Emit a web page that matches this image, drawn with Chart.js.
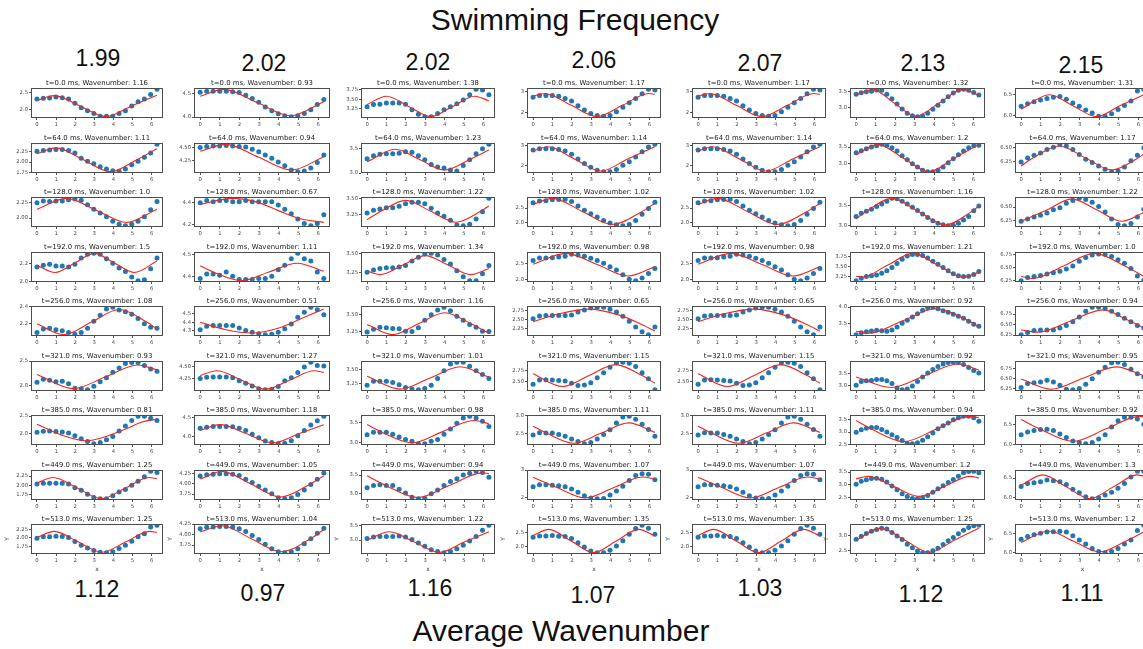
<!DOCTYPE html>
<html>
<head>
<meta charset="utf-8">
<script src="https://cdn.jsdelivr.net/npm/chart.js@4.4.1/dist/chart.umd.min.js"></script>
<style>
  html, body { margin: 0; padding: 0; background: #fff; }
  #page { position: relative; width: 1143px; height: 649px; overflow: hidden; background: #fff; }
  #page canvas { position: absolute; }
  .lbl { position: absolute; transform: translate(-50%, -50%); font-family: 'Liberation Sans', Arial, sans-serif; color: #111; line-height: 1; white-space: nowrap; }
</style>
</head>
<body>
<div id="page"></div>
<script>
// sample positions along the body, 0 .. 2*pi
var xs20 = [0, 0.331, 0.661, 0.992, 1.323, 1.653, 1.984, 2.315, 2.646, 2.976, 3.307, 3.638, 3.968, 4.299, 4.630, 4.960, 5.291, 5.622, 5.952, 6.283];
var xs25 = [0, 0.262, 0.524, 0.785, 1.047, 1.309, 1.571, 1.833, 2.094, 2.356, 2.618, 2.880, 3.142, 3.403, 3.665, 3.927, 4.189, 4.451, 4.712, 4.974, 5.236, 5.498, 5.760, 6.021, 6.283];
var xTickValues = [0, 1, 2, 3, 4, 5, 6];

var swimFreq = ['1.99', '2.02', '2.02', '2.06', '2.07', '2.13', '2.15'];
var avgWavenumber = ['1.12', '0.97', '1.16', '1.07', '1.03', '1.12', '1.11'];
var timesMs = ['0.0', '64.0', '128.0', '192.0', '256.0', '321.0', '385.0', '449.0', '513.0'];

// ---- column 1 ----
var waveC1 = ['1.16', '1.11', '1.0', '1.5', '1.08', '0.93', '0.81', '1.25', '1.25'];
var ticksC1 = [['2.0','2.5'], ['1.75','2.00','2.25'], ['2.00','2.25'], ['2.0','2.2'], ['2.2','2.4'], ['2.0','2.5'], ['2.0','2.5'], ['1.75','2.00','2.25'], ['1.75','2.00','2.25']];
var dotsC1 = [
  [2.30,2.32,2.33,2.36,2.34,2.30,2.18,2.05,1.96,1.88,1.80,1.80,1.80,1.88,1.96,2.10,2.22,2.30,2.43,2.58],
  [2.25,2.27,2.28,2.29,2.29,2.27,2.21,2.09,2.02,1.96,1.89,1.84,1.80,1.79,1.84,1.94,2.02,2.11,2.21,2.41],
  [2.24,2.27,2.26,2.27,2.27,2.29,2.30,2.28,2.21,2.14,2.08,2.02,1.95,1.90,1.88,1.90,1.95,2.02,2.13,2.26],
  [2.16,2.18,2.19,2.17,2.17,2.16,2.19,2.26,2.30,2.31,2.30,2.25,2.20,2.15,2.11,2.05,2.01,2.02,2.14,2.26],
  [2.10,2.14,2.15,2.13,2.12,2.10,2.08,2.10,2.15,2.23,2.30,2.37,2.39,2.36,2.34,2.31,2.26,2.20,2.16,2.15],
  [2.07,2.13,2.11,2.08,2.09,2.04,1.95,1.94,1.92,1.99,2.08,2.16,2.27,2.36,2.45,2.47,2.47,2.41,2.34,2.29],
  [2.04,2.07,2.08,2.06,2.05,2.02,1.94,1.86,1.78,1.72,1.75,1.83,1.92,2.08,2.22,2.37,2.49,2.49,2.44,2.37],
  [2.03,2.05,2.05,2.05,2.05,2.03,1.93,1.86,1.75,1.66,1.63,1.63,1.71,1.81,1.88,2.00,2.11,2.23,2.38,2.35],
  [1.99,2.03,2.03,2.05,2.04,2.01,1.89,1.78,1.70,1.62,1.57,1.56,1.59,1.68,1.78,1.90,2.03,2.12,2.32,2.37]
];
var fitC1 = [
  [[0,2.26],[0.9,2.40],[2.25,2.10],[3.6,1.79],[4.95,2.10],[6.28,2.41]],
  [[0,2.20],[1.0,2.33],[2.4,2.06],[3.83,1.78],[5.25,2.06],[6.28,2.31]],
  [[0,2.14],[1.55,2.31],[3.12,2.12],[4.69,1.93],[6.28,2.14]],
  [[0,2.18],[0.95,2.10],[1.98,2.205],[3.0,2.31],[4.05,2.205],[5.1,2.10],[6.28,2.227]],
  [[0,2.20],[1.4,2.075],[2.85,2.22],[4.3,2.365],[5.75,2.22],[6.28,2.14]],
  [[0,2.225],[1.9,1.94],[3.59,2.18],[5.28,2.42],[6.28,2.32]],
  [[0,2.27],[1.3,1.96],[2.6,1.80],[4.54,2.11],[5.5,2.33],[6.28,2.415]],
  [[0,2.06],[0.85,2.21],[2.11,1.92],[3.37,1.63],[4.63,1.92],[5.88,2.21],[6.28,2.175]],
  [[0,2.01],[0.9,2.19],[2.15,1.88],[3.4,1.57],[4.65,1.88],[5.9,2.19],[6.28,2.16]]
];

// ---- column 2 ----
var waveC2 = ['0.93', '0.94', '0.67', '1.11', '0.51', '1.27', '1.18', '1.05', '1.04'];
var ticksC2 = [['4.0','4.5'], ['4.25','4.50'], ['4.2','4.4'], ['4.4','4.5'], ['4.3','4.4','4.5'], ['4.25','4.50'], ['4.0','4.5'], ['3.75','4.00','4.25'], ['3.75','4.00','4.25']];
var dotsC2 = [
  [4.54,4.56,4.56,4.56,4.56,4.55,4.53,4.47,4.40,4.32,4.22,4.14,4.07,4.03,4.01,4.03,4.08,4.16,4.27,4.38],
  [4.50,4.52,4.53,4.53,4.54,4.53,4.52,4.51,4.47,4.42,4.36,4.30,4.23,4.16,4.08,4.05,4.06,4.12,4.22,4.36],
  [4.40,4.42,4.41,4.42,4.42,4.41,4.41,4.42,4.41,4.41,4.41,4.41,4.38,4.34,4.30,4.25,4.21,4.19,4.21,4.29],
  [4.39,4.41,4.41,4.405,4.42,4.40,4.385,4.385,4.385,4.39,4.39,4.40,4.43,4.45,4.48,4.505,4.48,4.47,4.42,4.39],
  [4.31,4.35,4.36,4.36,4.36,4.36,4.33,4.30,4.28,4.26,4.25,4.255,4.28,4.32,4.38,4.46,4.52,4.58,4.55,4.49],
  [4.25,4.28,4.285,4.285,4.285,4.265,4.20,4.15,4.09,4.03,4.01,4.02,4.08,4.20,4.265,4.38,4.50,4.60,4.53,4.52],
  [4.22,4.25,4.27,4.27,4.27,4.26,4.22,4.16,4.06,3.97,3.88,3.84,3.81,3.82,3.89,4.02,4.16,4.31,4.42,4.54],
  [4.19,4.22,4.23,4.24,4.24,4.23,4.20,4.11,4.03,3.94,3.85,3.76,3.66,3.64,3.66,3.74,3.85,3.98,4.11,4.26],
  [4.135,4.17,4.18,4.19,4.19,4.18,4.14,4.07,3.98,3.88,3.77,3.66,3.59,3.57,3.59,3.66,3.78,3.90,4.03,4.15]
];
var fitC2 = [
  [[0,4.45],[1.2,4.60],[2.9,4.315],[4.58,4.03],[6.28,4.33]],
  [[0,4.43],[1.3,4.56],[2.97,4.32],[4.65,4.08],[6.28,4.33]],
  [[0,4.385],[1.6,4.44],[2.8,4.41],[3.95,4.33],[5.1,4.253],[6.28,4.22]],
  [[0,4.448],[0.7,4.418],[2.1,4.38],[3.5,4.42],[4.93,4.46],[6.28,4.423]],
  [[0,4.40],[1.3,4.31],[2.6,4.27],[4.0,4.33],[5.2,4.45],[6.28,4.56]],
  [[0,4.314],[0.85,4.42],[2.08,4.22],[3.32,4.02],[4.56,4.22],[5.8,4.42],[6.28,4.384]],
  [[0,4.17],[1.0,4.32],[2.35,4.075],[3.68,3.83],[5.01,4.075],[6.28,4.318]],
  [[0,4.115],[1.1,4.30],[2.6,3.99],[4.09,3.68],[5.58,3.99],[6.28,4.195]],
  [[0,4.06],[1.1,4.21],[2.6,3.90],[4.12,3.59],[5.6,3.90],[6.28,4.12]]
];

// ---- column 3 ----
var waveC3 = ['1.38', '1.23', '1.22', '1.34', '1.16', '1.01', '0.98', '0.94', '1.22'];
var ticksC3 = [['3.25','3.50','3.75'], ['3.0','3.5'], ['3.25','3.50'], ['3.25','3.50'], ['3.25','3.50'], ['3.25','3.50'], ['3.0','3.5'], ['3.0','3.5'], ['3.0','3.5']];
var dotsC3 = [
  [3.30,3.36,3.37,3.40,3.40,3.40,3.37,3.22,3.10,3.04,3.04,3.12,3.22,3.30,3.38,3.48,3.62,3.76,3.74,3.62],
  [3.29,3.35,3.38,3.39,3.39,3.40,3.43,3.42,3.35,3.27,3.17,3.12,3.10,3.06,3.04,3.15,3.27,3.39,3.49,3.58],
  [3.28,3.32,3.34,3.36,3.36,3.38,3.42,3.44,3.44,3.42,3.35,3.28,3.23,3.17,3.10,3.09,3.11,3.19,3.30,3.50],
  [3.25,3.28,3.30,3.31,3.31,3.32,3.34,3.40,3.45,3.49,3.50,3.48,3.42,3.36,3.27,3.19,3.14,3.14,3.23,3.34],
  [3.24,3.28,3.31,3.30,3.29,3.285,3.25,3.245,3.30,3.41,3.49,3.56,3.60,3.55,3.47,3.41,3.35,3.31,3.25,3.245],
  [3.22,3.29,3.29,3.29,3.27,3.23,3.18,3.15,3.14,3.16,3.22,3.34,3.48,3.60,3.63,3.63,3.56,3.48,3.41,3.34],
  [3.20,3.26,3.26,3.26,3.21,3.14,3.08,3.04,2.98,2.98,3.04,3.08,3.21,3.34,3.48,3.61,3.65,3.61,3.53,3.40],
  [3.16,3.22,3.24,3.22,3.22,3.12,3.02,2.91,2.87,2.88,3.00,3.10,3.22,3.33,3.40,3.50,3.55,3.60,3.57,3.44],
  [3.05,3.10,3.12,3.12,3.12,3.14,3.10,3.02,2.90,2.79,2.67,2.61,2.57,2.61,2.70,2.82,2.97,3.12,3.33,3.50]
];
var fitC3 = [
  [[0,3.36],[1.0,3.58],[2.14,3.31],[3.28,3.04],[4.42,3.31],[5.55,3.58],[6.28,3.46]],
  [[0,3.226],[1.45,3.48],[2.73,3.27],[4.0,3.06],[5.28,3.27],[6.28,3.467]],
  [[0,3.18],[0.71,3.305],[2.0,3.47],[3.29,3.305],[4.575,3.14],[5.86,3.305],[6.28,3.386]],
  [[0,3.266],[0.67,3.22],[1.84,3.345],[3.01,3.47],[4.18,3.345],[5.35,3.22],[6.28,3.30]],
  [[0,3.35],[1.3,3.20],[2.65,3.36],[4.01,3.52],[5.36,3.36],[6.28,3.22]],
  [[0,3.38],[1.7,3.15],[3.25,3.35],[4.8,3.55],[6.28,3.364]],
  [[0,3.45],[0.7,3.275],[2.3,3.0],[3.9,3.275],[5.5,3.55],[6.28,3.47]],
  [[0,3.48],[0.93,3.23],[2.6,2.90],[4.27,3.23],[5.94,3.56],[6.28,3.54]],
  [[0,2.99],[1.15,3.28],[2.44,2.93],[3.72,2.58],[5.01,2.93],[6.28,3.28]]
];

// ---- column 4 (column 5 shows the same panels) ----
var waveC4 = ['1.17', '1.14', '1.02', '0.98', '0.65', '1.15', '1.11', '1.07', '1.35'];
var ticksC4 = [['2','3'], ['2','3'], ['2.0','2.5'], ['2.0','2.5'], ['2.25','2.50','2.75'], ['2.50','2.75'], ['2.5','3.0'], ['2','3'], ['2.0','2.5']];
var dotsC4 = [
  [2.74,2.82,2.82,2.82,2.79,2.68,2.56,2.33,2.12,1.95,1.86,1.82,1.86,2.04,2.26,2.47,2.68,2.91,3.12,3.09],
  [2.76,2.82,2.82,2.82,2.78,2.71,2.55,2.31,2.09,1.91,1.76,1.69,1.69,1.80,2.00,2.18,2.42,2.67,2.91,3.04],
  [2.69,2.75,2.76,2.79,2.80,2.81,2.73,2.57,2.42,2.30,2.18,2.06,1.97,1.91,1.88,1.92,2.06,2.28,2.48,2.70],
  [2.59,2.67,2.67,2.68,2.70,2.72,2.78,2.76,2.72,2.66,2.59,2.51,2.40,2.30,2.16,2.02,1.98,2.06,2.20,2.35],
  [2.51,2.59,2.60,2.60,2.60,2.60,2.62,2.70,2.76,2.81,2.83,2.83,2.78,2.70,2.58,2.44,2.28,2.15,2.07,2.28],
  [2.45,2.54,2.55,2.54,2.53,2.52,2.47,2.42,2.43,2.48,2.59,2.70,2.82,2.92,2.93,2.91,2.84,2.70,2.57,2.33],
  [2.47,2.53,2.52,2.52,2.48,2.43,2.36,2.29,2.23,2.26,2.36,2.48,2.61,2.80,2.96,2.98,2.90,2.76,2.62,2.43],
  [2.40,2.47,2.47,2.45,2.44,2.40,2.32,2.20,2.08,2.00,1.97,1.98,2.10,2.25,2.42,2.62,2.80,2.87,2.85,2.65],
  [2.34,2.39,2.39,2.40,2.38,2.37,2.30,2.15,2.00,1.86,1.80,1.80,1.88,2.03,2.22,2.45,2.65,2.76,2.66,2.45]
];
var fitC4 = [
  [[0,2.79],[0.6,2.92],[1.94,2.36],[3.29,1.80],[4.63,2.36],[5.97,2.92],[6.28,2.88]],
  [[0,2.71],[0.75,2.92],[2.13,2.32],[3.5,1.72],[4.88,2.32],[6.28,2.92]],
  [[0,2.62],[1.0,2.84],[2.54,2.38],[4.08,1.92],[5.62,2.38],[6.28,2.665]],
  [[0,2.48],[1.7,2.81],[3.3,2.47],[4.9,2.12],[6.28,2.40]],
  [[0,2.43],[1.4,2.66],[2.9,2.78],[4.4,2.62],[5.5,2.38],[6.28,2.17]],
  [[0,2.68],[1.52,2.40],[2.89,2.64],[4.25,2.88],[5.62,2.64],[6.28,2.47]],
  [[0,2.71],[0.69,2.52],[2.1,2.24],[3.52,2.52],[4.93,2.80],[6.28,2.54]],
  [[0,2.74],[1.23,2.375],[2.7,2.0],[4.17,2.375],[5.64,2.75],[6.28,2.67]],
  [[0,2.40],[0.8,2.62],[1.96,2.21],[3.13,1.80],[4.29,2.21],[5.45,2.62],[6.28,2.39]]
];

// ---- column 6 (denser sampling) ----
var waveC6 = ['1.32', '1.2', '1.16', '1.21', '0.92', '0.92', '0.94', '1.2', '1.25'];
var ticksC6 = [['3.0','3.5'], ['3.0','3.5'], ['3.0','3.5'], ['3.25','3.50','3.75'], ['3.5','4.0'], ['3.0','3.5'], ['2.5','3.0','3.5'], ['2.5','3.0','3.5'], ['2.5','3.0']];
var dotsC6 = [
  [3.42,3.47,3.50,3.52,3.56,3.55,3.42,3.27,3.10,2.94,2.80,2.72,2.69,2.71,2.80,2.93,3.06,3.20,3.34,3.46,3.55,3.58,3.55,3.48,3.40],
  [3.33,3.39,3.45,3.50,3.54,3.58,3.55,3.48,3.38,3.24,3.12,3.00,2.90,2.80,2.76,2.76,2.80,2.90,3.03,3.15,3.27,3.38,3.48,3.54,3.55],
  [3.22,3.30,3.35,3.40,3.47,3.53,3.60,3.67,3.66,3.60,3.53,3.45,3.37,3.28,3.19,3.11,3.05,3.01,2.99,3.00,3.05,3.13,3.22,3.36,3.48],
  [3.16,3.22,3.26,3.28,3.30,3.34,3.40,3.48,3.58,3.68,3.76,3.80,3.80,3.77,3.71,3.63,3.56,3.48,3.40,3.33,3.28,3.26,3.27,3.31,3.38],
  [3.17,3.23,3.26,3.28,3.30,3.29,3.27,3.31,3.40,3.51,3.60,3.70,3.80,3.90,3.98,3.99,3.95,3.89,3.84,3.78,3.72,3.66,3.57,3.48,3.42],
  [3.03,3.18,3.21,3.23,3.27,3.27,3.22,3.10,2.92,2.85,2.88,3.00,3.18,3.37,3.53,3.68,3.80,3.90,3.96,3.97,3.96,3.88,3.76,3.64,3.53],
  [2.99,3.09,3.15,3.18,3.18,3.10,3.00,2.89,2.78,2.66,2.56,2.54,2.58,2.67,2.81,2.96,3.13,3.25,3.36,3.49,3.57,3.62,3.62,3.57,3.43],
  [3.01,3.13,3.19,3.24,3.25,3.21,3.10,2.95,2.80,2.64,2.53,2.45,2.44,2.48,2.57,2.70,2.84,2.96,3.08,3.20,3.33,3.47,3.52,3.53,3.47],
  [2.87,2.97,3.06,3.13,3.19,3.23,3.20,3.09,2.98,2.86,2.71,2.60,2.49,2.44,2.44,2.50,2.58,2.70,2.82,2.93,3.05,3.16,3.25,3.31,3.32]
];
var fitC6 = [
  [[0,3.40],[0.85,3.57],[1.95,3.135],[3.05,2.70],[4.25,3.135],[5.45,3.57],[6.28,3.38]],
  [[0,3.27],[1.1,3.58],[2.41,3.17],[3.72,2.76],[5.03,3.17],[6.28,3.58]],
  [[0,3.16],[0.5,3.34],[1.85,3.67],[3.2,3.34],[4.56,3.01],[5.91,3.34],[6.28,3.475]],
  [[0,3.265],[0.3,3.245],[1.6,3.535],[2.9,3.825],[4.2,3.535],[5.5,3.245],[6.28,3.367]],
  [[0,3.27],[0.65,3.21],[2.36,3.58],[4.06,3.95],[5.77,3.58],[6.28,3.41]],
  [[0,3.37],[1.8,2.94],[3.5,3.42],[5.2,3.90],[6.28,3.66]],
  [[0,3.455],[0.78,3.12],[2.45,2.62],[4.12,3.12],[5.79,3.62],[6.28,3.57]],
  [[0,3.23],[0.6,3.33],[1.91,2.93],[3.22,2.53],[4.53,2.93],[5.84,3.33],[6.28,3.27]],
  [[0,2.845],[1.25,3.23],[2.5,2.84],[3.76,2.45],[5.02,2.84],[6.28,3.23]]
];

// ---- column 7 ----
var waveC7 = ['1.31', '1.17', '1.22', '1.0', '0.94', '0.95', '0.92', '1.3', '1.2'];
var ticksC7 = [['6.0','6.5'], ['6.25','6.50'], ['6.25','6.50'], ['6.25','6.50','6.75'], ['6.25','6.50','6.75'], ['6.25','6.50','6.75'], ['6.0','6.5'], ['6.0','6.5'], ['6.0','6.5']];
var dotsC7 = [
  [6.22,6.28,6.33,6.37,6.41,6.44,6.46,6.39,6.30,6.22,6.13,6.06,5.98,5.98,6.04,6.14,6.24,6.35,6.59,6.63],
  [6.24,6.31,6.36,6.40,6.46,6.50,6.55,6.52,6.46,6.37,6.29,6.23,6.17,6.11,6.07,6.08,6.15,6.26,6.36,6.49],
  [6.24,6.28,6.32,6.35,6.39,6.45,6.49,6.57,6.62,6.66,6.64,6.59,6.51,6.41,6.28,6.18,6.16,6.20,6.32,6.46],
  [6.25,6.31,6.33,6.35,6.375,6.40,6.43,6.47,6.53,6.62,6.69,6.74,6.76,6.75,6.71,6.65,6.58,6.48,6.34,6.26],
  [6.26,6.31,6.36,6.37,6.37,6.37,6.42,6.48,6.57,6.68,6.82,6.91,6.91,6.88,6.82,6.74,6.65,6.57,6.48,6.42],
  [6.28,6.38,6.40,6.42,6.46,6.42,6.34,6.24,6.23,6.26,6.36,6.50,6.66,6.78,6.89,6.90,6.85,6.73,6.62,6.54],
  [6.25,6.32,6.36,6.38,6.39,6.36,6.27,6.18,6.09,6.05,6.02,6.05,6.14,6.25,6.45,6.61,6.70,6.70,6.65,6.52],
  [6.29,6.36,6.38,6.41,6.45,6.43,6.41,6.34,6.22,6.13,6.03,5.98,6.00,6.07,6.14,6.24,6.36,6.53,6.67,6.67],
  [6.36,6.43,6.48,6.52,6.55,6.56,6.57,6.55,6.45,6.34,6.23,6.11,6.03,6.00,6.03,6.11,6.23,6.34,6.59,6.73]
];
var fitC7 = [
  [[0,6.15],[1.45,6.50],[2.65,6.235],[3.85,5.97],[5.05,6.235],[6.28,6.50]],
  [[0,6.17],[0.6,6.31],[1.95,6.52],[3.3,6.31],[4.64,6.10],[5.98,6.31],[6.28,6.38]],
  [[0,6.24],[1.31,6.445],[2.6,6.65],[3.89,6.445],[5.17,6.24],[6.28,6.40]],
  [[0,6.33],[0.6,6.29],[2.17,6.53],[3.74,6.77],[5.31,6.53],[6.28,6.33]],
  [[0,6.37],[0.85,6.32],[2.5,6.58],[4.19,6.85],[5.4,6.62],[6.28,6.42]],
  [[0,6.49],[1.55,6.24],[3.2,6.515],[4.86,6.79],[6.28,6.575]],
  [[0,6.64],[0.94,6.40],[2.65,6.08],[4.36,6.40],[6.06,6.72],[6.28,6.71]],
  [[0,6.32],[1.1,6.58],[2.31,6.28],[3.52,5.98],[4.73,6.28],[5.93,6.58],[6.28,6.55]],
  [[0,6.27],[1.4,6.58],[2.71,6.30],[4.02,6.02],[5.33,6.30],[6.28,6.55]]
];

var columns = [
  { k: waveC1, dots: dotsC1, fit: fitC1, ticks: ticksC1 },
  { k: waveC2, dots: dotsC2, fit: fitC2, ticks: ticksC2 },
  { k: waveC3, dots: dotsC3, fit: fitC3, ticks: ticksC3 },
  { k: waveC4, dots: dotsC4, fit: fitC4, ticks: ticksC4 },
  { k: waveC4, dots: dotsC4, fit: fitC4, ticks: ticksC4 },
  { k: waveC6, dots: dotsC6, fit: fitC6, ticks: ticksC6 },
  { k: waveC7, dots: dotsC7, fit: fitC7, ticks: ticksC7 }
];

// layout of the panel grid (pixels)
var boxLeft = [31, 194, 361, 527, 692, 850, 1015];
var boxWidth = [132, 136, 134, 134, 134, 135, 135];
var firstBoxTop = 88, rowStep = 54.5, boxHeight = 30;
var yAxisW = 30, titleH = 12, rightPad = 3;
var page = document.getElementById('page');

var framePlugin = {
  id: 'frame',
  afterDraw: function(chart) {
    var a = chart.chartArea, ctx = chart.ctx;
    ctx.save();
    ctx.strokeStyle = '#4d4d4d';
    ctx.lineWidth = 1;
    ctx.strokeRect(Math.round(a.left) + 0.5, Math.round(a.top) + 0.5,
      Math.round(a.right - a.left) - 1, Math.round(a.bottom - a.top) - 1);
    ctx.restore();
  }
};

var tickFont = { family: 'DejaVu Sans', size: 5.3 };

function drawPanel(c, r) {
  var col = columns[c];
  var last = r === 8;
  var xH = last ? 19 : 11;
  var w = yAxisW + boxWidth[c] + rightPad;
  var h = titleH + boxHeight + xH;

  var cv = document.createElement('canvas');
  cv.width = w; cv.height = h;
  cv.style.width = w + 'px'; cv.style.height = h + 'px';
  cv.style.left = (boxLeft[c] - yAxisW) + 'px';
  cv.style.top = (Math.round(firstBoxTop + r * rowStep) - titleH) + 'px';
  page.appendChild(cv);

  var yv = col.dots[r];
  var xs = yv.length === 25 ? xs25 : xs20;
  var pts = yv.map(function(y, i) { return { x: xs[i], y: y }; });
  var fitPts = col.fit[r].map(function(p) { return { x: p[0], y: p[1] }; });
  var labels = col.ticks[r];
  var tickVals = labels.map(parseFloat);

  // autoscale like matplotlib: data range plus 5% margins, stretched to reach the labelled ticks
  var all = yv.concat(col.fit[r].map(function(p) { return p[1]; }));
  var lo = Math.min.apply(null, all), hi = Math.max.apply(null, all);
  var pad = (hi - lo) * 0.05;
  var yMin = Math.min(lo - pad, tickVals[0]);
  var yMax = Math.max(hi + pad, tickVals[tickVals.length - 1]);

  new Chart(cv, {
    type: 'scatter',
    data: {
      datasets: [
        { data: pts, pointRadius: 2.5, pointHoverRadius: 2.5, pointBackgroundColor: '#1f77b4', pointBorderWidth: 0, order: 2 },
        { data: fitPts, showLine: true, borderColor: '#f2261b', borderWidth: 1.1, pointRadius: 0,
          cubicInterpolationMode: 'monotone', fill: false, order: 1 }
      ]
    },
    options: {
      animation: false,
      responsive: false,
      events: [],
      layout: { padding: { right: rightPad } },
      plugins: {
        legend: { display: false },
        tooltip: { enabled: false },
        title: {
          display: true,
          fullSize: false,
          text: 't=' + timesMs[r] + ' ms, Wavenumber: ' + col.k[r],
          color: '#1a1a1a',
          font: { family: 'DejaVu Sans', size: 6.9, weight: 'normal', lineHeight: 1 },
          padding: { top: 4.1, bottom: 1 }
        }
      },
      scales: {
        x: {
          type: 'linear', min: -0.314, max: 6.597,
          afterBuildTicks: function(s) { s.ticks = xTickValues.map(function(v) { return { value: v }; }); },
          afterFit: function(s) { s.height = xH; },
          ticks: { color: '#444', font: tickFont, padding: 1, maxRotation: 0, autoSkip: false },
          grid: { drawOnChartArea: false, tickLength: 2, color: '#555' },
          border: { display: false },
          title: { display: last, text: 'x', color: '#333', font: { family: 'DejaVu Sans', size: 6 }, padding: 0 }
        },
        y: {
          type: 'linear', min: yMin, max: yMax,
          afterBuildTicks: function(s) { s.ticks = tickVals.map(function(v) { return { value: v }; }); },
          afterFit: function(s) { s.width = yAxisW; },
          ticks: { color: '#444', font: tickFont, padding: 1, autoSkip: false,
            callback: function(v, i) { return labels[i]; } },
          grid: { drawOnChartArea: false, tickLength: 2, color: '#555' },
          border: { display: false },
          title: { display: last, text: 'Y', color: '#333', font: { family: 'DejaVu Sans', size: 6 }, padding: { top: 3, bottom: 0 } }
        }
      }
    },
    plugins: [framePlugin]
  });
}

function addLabel(text, x, y, size) {
  var d = document.createElement('div');
  d.className = 'lbl';
  d.textContent = text;
  d.style.left = x + 'px';
  d.style.top = y + 'px';
  d.style.fontSize = size + 'px';
  page.appendChild(d);
}

var topPos = [[98, 58], [264, 63], [428, 62], [594, 60], [760, 63], [923, 63], [1081, 65]];
var bottomPos = [[97, 589], [263, 593], [430, 588], [593, 595], [760, 588], [921, 594], [1082, 593]];

addLabel('Swimming Frequency', 575, 20, 30);
addLabel('Average Wavenumber', 561, 631, 30);
for (var c = 0; c < 7; c++) {
  addLabel(swimFreq[c], topPos[c][0], topPos[c][1], 23);
  addLabel(avgWavenumber[c], bottomPos[c][0], bottomPos[c][1], 23);
  for (var r = 0; r < 9; r++) {
    drawPanel(c, r);
  }
}
</script>
</body>
</html>
